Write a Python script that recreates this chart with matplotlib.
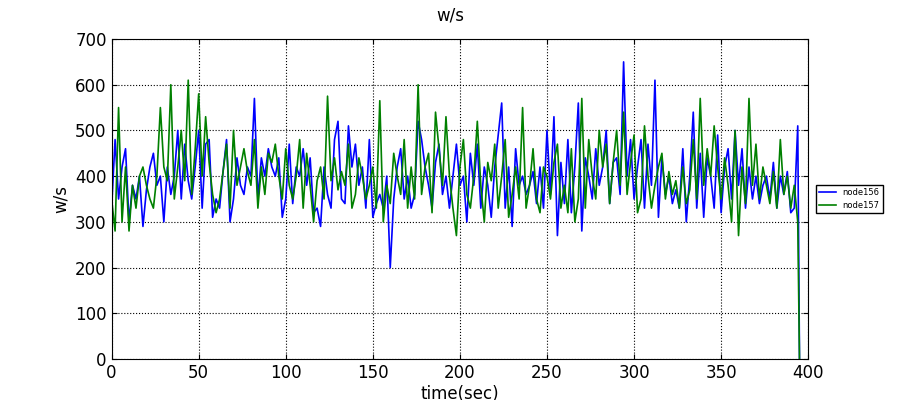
import numpy as np
import matplotlib.pyplot as plt

node156 = [330,480,350,420,460,300,380,350,400,290,370,420,450,380,400,300,420,360,400,500,
           350,470,390,350,420,500,330,470,480,310,350,330,410,480,300,350,440,380,360,420,
           400,570,350,440,400,460,420,400,440,310,350,470,340,420,400,460,380,440,320,330,
           290,420,360,330,480,520,350,340,510,420,470,380,420,330,480,310,340,360,330,400,
           200,350,420,460,350,400,330,360,520,480,420,380,330,430,470,360,400,330,400,470,
           380,400,300,450,380,470,330,420,380,310,420,490,560,330,420,290,460,380,400,360,
           380,410,340,420,330,500,360,530,270,430,340,480,320,420,560,280,440,400,350,460,
           380,420,500,340,430,440,360,650,400,480,350,420,480,330,470,380,610,310,440,360,
           400,340,370,330,460,300,400,540,330,450,310,440,400,330,490,320,420,460,350,500,
           380,460,330,420,350,400,340,380,400,350,430,330,400,360,410,320,330,510, 0]
node157 = [350,280,550,300,420,280,380,330,400,420,380,350,330,400,550,420,390,600,350,420,
           500,390,610,360,460,580,400,530,430,360,320,350,410,470,330,500,380,420,460,410,
           380,480,330,420,360,450,430,470,400,350,460,380,350,400,480,330,450,380,300,390,
           420,350,575,390,440,370,410,380,470,330,360,440,400,350,380,420,330,565,300,380,
           340,450,400,360,480,330,420,350,600,360,420,450,320,540,460,380,530,400,330,270,
           420,480,360,330,400,520,380,300,430,390,470,330,400,480,310,360,420,350,550,330,
           380,460,350,320,420,400,350,430,470,330,380,320,460,300,350,570,330,480,400,350,
           500,420,470,340,430,500,380,540,360,430,490,320,350,510,400,330,380,420,450,350,
           410,360,390,330,420,340,370,480,350,570,380,460,400,510,420,350,440,380,300,500,
           270,420,340,570,380,470,350,420,380,340,410,330,480,360,400,330,380,300, 0]
t = list(np.arange(0, 396, 2)) + [395]

fig = plt.figure(figsize=(9, 4), dpi=100)
ax = fig.add_axes([0.124, 0.1025, 0.774, 0.8])
ax.plot(t, node156, color='#0000ff', lw=1.2, label='node156')
ax.plot(t, node157, color='#008000', lw=1.2, label='node157')
ax.set_xlim(0, 400)
ax.set_ylim(0, 700)
ax.set_xticks(range(0, 401, 50))
ax.set_yticks(range(0, 701, 100))
ax.grid(True, color='black', linestyle=':', linewidth=0.8)
ax.tick_params(direction='in', labelsize=12, top=True, right=True)
ax.set_xlabel('time(sec)', fontsize=12, labelpad=2)
ax.set_ylabel('w/s', fontsize=12)
fig.suptitle('w/s', fontsize=12, y=0.985)
ax.legend(loc='center left', bbox_to_anchor=(1.005, 0.5), fontsize=6, fancybox=False,
          edgecolor='black', framealpha=1)
fig.savefig('out.png')
